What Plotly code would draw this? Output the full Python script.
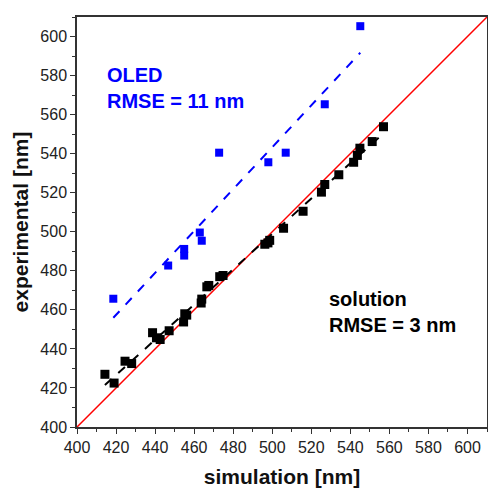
import numpy as np
import plotly.graph_objects as go

# OLED data (blue)
oled_sim = [418.6, 446.7, 454.9, 454.9, 462.9, 463.9, 472.8, 498.0, 506.9, 526.9, 545.1]
oled_exp = [465.7, 482.7, 491.2, 487.8, 499.6, 495.4, 540.5, 535.6, 540.5, 565.3, 605.3]

# solution data (black)
sol_sim = [414.3, 419.0, 424.6, 428.0, 438.7, 440.7, 442.6, 447.2, 454.6, 455.2, 456.2,
           463.6, 463.9, 466.5, 467.5, 473.1, 474.8, 496.2, 497.8, 498.7, 505.8, 515.8,
           525.2, 526.9, 534.1, 541.7, 543.6, 544.9, 551.2, 557.0]
sol_exp = [427.0, 422.5, 433.7, 432.5, 448.3, 445.7, 444.8, 449.3, 453.8, 458.0, 457.3,
           463.5, 465.5, 471.8, 472.5, 477.0, 477.6, 493.6, 494.3, 495.6, 501.8, 510.5,
           520.3, 524.2, 529.2, 535.6, 539.1, 542.8, 546.2, 553.8]

axis_range = [400, 610]
ident = [400, 610]

def fit_line(x, y):
    k, b = np.polyfit(x, y, 1)
    xs = np.array([min(x), max(x)])
    return xs, k * xs + b

ox, oy = fit_line(oled_sim, oled_exp)
sx, sy = fit_line(sol_sim, sol_exp)

FONT = "Liberation Sans, Arial"

fig = go.Figure()
fig.add_trace(go.Scatter(x=ident, y=ident, mode="lines",
                         line=dict(color="#ff0000", width=1.5), showlegend=False))
fig.add_trace(go.Scatter(x=ox, y=oy, mode="lines",
                         line=dict(color="#0000ff", width=2, dash="dash"), showlegend=False))
fig.add_trace(go.Scatter(x=sx, y=sy, mode="lines",
                         line=dict(color="#000000", width=2, dash="dash"), showlegend=False))
fig.add_trace(go.Scatter(x=oled_sim, y=oled_exp, mode="markers",
                         marker=dict(symbol="square", size=8, color="#0000ff"), showlegend=False))
fig.add_trace(go.Scatter(x=sol_sim, y=sol_exp, mode="markers",
                         marker=dict(symbol="square", size=9, color="#000000"), showlegend=False))

fig.add_annotation(x=0.068, y=0.89, xref="paper", yref="paper", xanchor="left", yanchor="top",
                   text="<b>OLED</b><br><b>RMSE = 11 nm</b>", showarrow=False, align="left",
                   font=dict(family=FONT, size=20, color="#0000ff"))
fig.add_annotation(x=0.61, y=0.345, xref="paper", yref="paper", xanchor="left", yanchor="top",
                   text="<b>solution</b><br><b>RMSE = 3 nm</b>", showarrow=False, align="left",
                   font=dict(family=FONT, size=20, color="#000000"))

axis_common = dict(range=axis_range, dtick=20, tick0=400, ticks="outside", ticklen=5,
                   tickwidth=1.2, tickcolor="#333333", showline=True, linecolor="#333333",
                   linewidth=1.5, mirror=True, showgrid=False, zeroline=False,
                   automargin=False,
                   tickfont=dict(family=FONT, size=16, color="#222222"),
                   minor=dict(ticks="outside", ticklen=3, dtick=10, tickcolor="#333333"))

fig.update_xaxes(**axis_common,
                 title=dict(text="<b>simulation [nm]</b>", standoff=14,
                            font=dict(family=FONT, size=21, color="#111111")))
fig.update_yaxes(**axis_common,
                 title=dict(text="<b>experimental [nm]</b>", standoff=6,
                            font=dict(family=FONT, size=21, color="#111111")))

fig.update_layout(width=488, height=489, margin=dict(l=77, r=1, t=17, b=62),
                  plot_bgcolor="white", paper_bgcolor="white")

fig.write_html("out.html", config={"displayModeBar": False},
               post_script="document.body.style.margin='0';document.body.style.overflow='hidden';")
